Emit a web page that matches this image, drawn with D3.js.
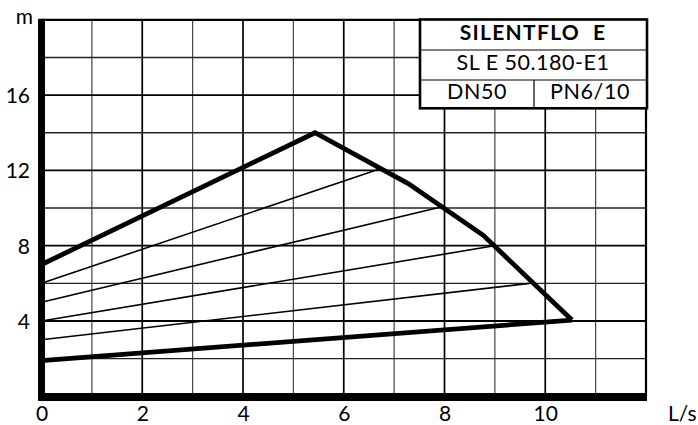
<!DOCTYPE html>
<meta charset="utf-8">
<style>
body { margin: 0; background: #fff; }
text { font-family: Lato, "Open Sans", sans-serif; fill: #000; }
</style>
<svg width="698" height="425"></svg>
<script src="https://cdn.jsdelivr.net/npm/d3@7"></script>
<script>

// pump curve values (flow L/s, head m)
var maxFlow = [0, 5.43, 7.28, 8.77, 10.53];
var maxHead = [7.0, 14.0, 11.3, 8.55, 4.05];
var minFlow = [0, 10.53];
var minHead = [1.9, 4.05];
// intermediate speed lines: head at Q=0 and end point on max curve
var speedStartHead = [6, 5, 4, 3];
var speedEndFlow = [6.68, 7.91, 8.96, 9.69];
var speedEndHead = [12.05, 10.04, 7.98, 6.0];

var xTicks = [0, 2, 4, 6, 8, 10];
var yTicks = [4, 8, 12, 16];
var titleRows = ["SILENTFLO  E", "SL E 50.180-E1"];
var titleCells = ["DN50", "PN6/10"];

var svg = d3.select("svg");

var x = d3.scaleLinear().domain([0, 12]).range([41.5, 646]);
var y = d3.scaleLinear().domain([0, 20]).range([396.3, 19.8]);

// grid
var grid = svg.append("g");
grid.selectAll("line.vx")
  .data(d3.range(1, 12))
  .enter().append("line")
    .attr("x1", function(d) { return x(d); })
    .attr("x2", function(d) { return x(d); })
    .attr("y1", y(20)).attr("y2", y(0))
    .attr("stroke", function(d) { return d % 2 ? "#444" : "#000"; })
    .attr("stroke-width", function(d) { return d % 2 ? 1.2 : 1.7; });

grid.selectAll("line.hy")
  .data(d3.range(2, 20, 2))
  .enter().append("line")
    .attr("x1", x(0)).attr("x2", x(12))
    .attr("y1", function(d) { return y(d); })
    .attr("y2", function(d) { return y(d); })
    .attr("stroke", function(d) { return d % 4 ? "#222" : "#000"; })
    .attr("stroke-width", function(d) { return d % 4 ? 1.4 : 1.8; });

// frame: thin top and right
svg.append("path")
  .attr("d", "M" + x(0) + "," + y(20) + "H" + x(12) + "V" + y(0))
  .attr("fill", "none").attr("stroke", "#000").attr("stroke-width", 2.2);

// speed lines
svg.append("g").selectAll("line")
  .data(speedStartHead)
  .enter().append("line")
    .attr("x1", x(0))
    .attr("y1", function(d) { return y(d); })
    .attr("x2", function(d, i) { return x(speedEndFlow[i]); })
    .attr("y2", function(d, i) { return y(speedEndHead[i]); })
    .attr("stroke", "#000").attr("stroke-width", 1.6);

var line = d3.line()
  .x(function(d) { return x(d[0]); })
  .y(function(d) { return y(d[1]); });

svg.append("path")
  .datum(d3.zip(maxFlow, maxHead))
  .attr("d", line)
  .attr("fill", "none").attr("stroke", "#000")
  .attr("stroke-width", 4.8).attr("stroke-linejoin", "miter");

svg.append("path")
  .datum(d3.zip(minFlow, minHead))
  .attr("d", line)
  .attr("fill", "none").attr("stroke", "#000").attr("stroke-width", 4.8);

// thick axes
svg.append("rect")
  .attr("x", 38).attr("y", y(20) - 1)
  .attr("width", 7).attr("height", y(0) + 4.5 - y(20) + 1)
  .attr("fill", "#000");
svg.append("rect")
  .attr("x", 38).attr("y", 393)
  .attr("width", x(12) + 1 - 38).attr("height", 8)
  .attr("fill", "#000");

// tick labels through axes
var xAxis = svg.append("g")
  .attr("transform", "translate(0,404)")
  .call(d3.axisBottom(x).tickValues(xTicks).tickSize(0).tickPadding(0)
    .tickFormat(d3.format("d")));
xAxis.select(".domain").remove();
xAxis.selectAll("text")
  .attr("dy", null).attr("y", 17)
  .style("font-size", "21px").style("font-family", "Lato, sans-serif");

var yAxis = svg.append("g")
  .attr("transform", "translate(30,0)")
  .call(d3.axisLeft(y).tickValues(yTicks).tickSize(0).tickPadding(0)
    .tickFormat(d3.format("d")));
yAxis.select(".domain").remove();
yAxis.selectAll("text")
  .attr("dy", null).attr("y", 7.5)
  .style("font-size", "21px").style("font-family", "Lato, sans-serif");

svg.append("text").attr("x", 33).attr("y", 24)
  .attr("text-anchor", "end").style("font-size", "21px").text("m");
svg.append("text").attr("x", 668).attr("y", 421)
  .style("font-size", "21px").text("L/s");

// title box
var bx0 = 420, bx1 = 647, rows = [19.5, 50, 80, 108.3];
var box = svg.append("g");
box.append("rect")
  .attr("x", bx0).attr("y", rows[0])
  .attr("width", bx1 - bx0).attr("height", rows[3] - rows[0])
  .attr("fill", "#fff").attr("stroke", "#000").attr("stroke-width", 2.6);
box.selectAll("line.sep")
  .data([rows[1], rows[2]])
  .enter().append("line")
    .attr("x1", bx0).attr("x2", bx1)
    .attr("y1", function(d) { return d; }).attr("y2", function(d) { return d; })
    .attr("stroke", "#000").attr("stroke-width", 1.2);
box.append("line")
  .attr("x1", 534).attr("x2", 534).attr("y1", rows[2]).attr("y2", rows[3])
  .attr("stroke", "#000").attr("stroke-width", 1.2);

box.selectAll("text.row")
  .data(titleRows)
  .enter().append("text")
    .attr("x", 533)
    .attr("y", function(d, i) { return [39.5, 70][i]; })
    .attr("text-anchor", "middle")
    .attr("xml:space", "preserve")
    .style("white-space", "pre")
    .style("font-size", function(d, i) { return i ? "21.5px" : "21px"; })
    .style("letter-spacing", function(d, i) { return i ? "0.5px" : "1.3px"; })
    .style("font-weight", function(d, i) { return i ? "normal" : "bold"; })
    .text(function(d) { return d; });

box.selectAll("text.cell")
  .data(titleCells)
  .enter().append("text")
    .attr("x", function(d, i) { return [477, 590][i]; })
    .attr("y", 98.5)
    .attr("text-anchor", "middle")
    .style("font-size", "21.5px")
    .style("letter-spacing", "0.6px")
    .text(function(d) { return d; });

</script>
